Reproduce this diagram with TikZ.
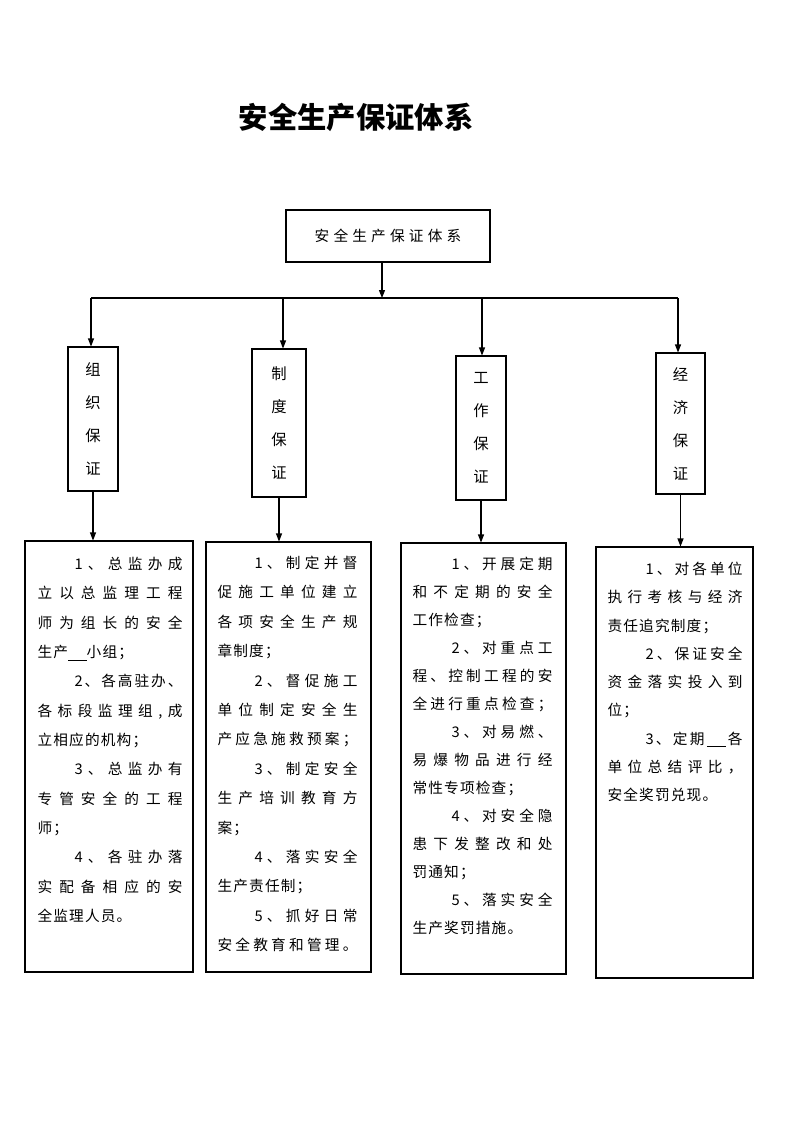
\documentclass[tikz,border=0pt]{standalone}
\usepackage{fontspec}
\newfontfamily\cjk[LetterSpace=8]{Noto Sans CJK SC}
\newfontfamily\cjkplain{Noto Sans CJK SC}
\usetikzlibrary{arrows.meta}
\ExplSyntaxOn
\NewDocumentCommand\spread{mm}{\hbox~to~#1{\tl_map_inline:nn{#2}{##1\hfill}\unskip}}
\ExplSyntaxOff
\newcommand\ul{\rule[-2pt]{14pt}{0.5pt}}
\newcommand\JL[4]{\node[txt] (#1) at (#2) {\spread{#3}{#4}};}
\newcommand\NL[3]{\node[txt] (#1) at (#2) {#3};}
\begin{document}
\begin{tikzpicture}[x=0.75pt,y=-0.75pt,line width=0.8pt,
  arr/.style={-{Triangle[length=6pt,width=4.5pt]}},
  sbox/.style={draw,inner sep=0pt,align=center,font=\cjkplain\fontsize{11.5pt}{24.75pt}\selectfont},
  bbox/.style={draw,inner sep=0pt},
  txt/.style={anchor=west,inner sep=0pt,text height=9.68pt,text depth=1.32pt,font=\cjk\fontsize{11pt}{12pt}\selectfont}]
\path[use as bounding box] (0,0) rectangle (793,1122);
% title
\node[font=\cjkplain\bfseries\fontsize{22pt}{26pt}\selectfont] (title) at (356,117) {安全生产保证体系};
% top box
\node[draw,minimum width=153pt,minimum height=39pt,inner sep=0pt,font=\cjkplain\fontsize{11pt}{12pt}\selectfont] (top) at (388,236) {\spread{110pt}{安全生产保证体系}};
% hub line
\coordinate (hub) at (382,298);
\coordinate (h1) at (91,298);
\coordinate (h2) at (283,298);
\coordinate (h3) at (482,298);
\coordinate (h4) at (678,298);
\draw[arr] (top.south -| hub) -- (hub);
\draw (h1) -- (h4);
% small boxes
\node[sbox,minimum width=37.5pt,minimum height=108pt] (b1) at (93,419) {组\\织\\保\\证};
\node[sbox,minimum width=40.5pt,minimum height=111pt] (b2) at (279,423) {制\\度\\保\\证};
\node[sbox,minimum width=37.5pt,minimum height=108pt] (b3) at (481,428) {工\\作\\保\\证};
\node[sbox,minimum width=36.75pt,minimum height=105.75pt] (b4) at (680.5,423.5) {经\\济\\保\\证};
\draw[arr] (h1) -- (h1 |- b1.north);
\draw[arr] (h2) -- (h2 |- b2.north);
\draw[arr] (h3) -- (h3 |- b3.north);
\draw[arr] (h4) -- (h4 |- b4.north);
% big boxes
\node[bbox,minimum width=126pt,minimum height=323.25pt] (B1) at (109,756.5) {};
\node[bbox,minimum width=123.75pt,minimum height=322.5pt] (B2) at (288.5,757) {};
\node[bbox,minimum width=123.75pt,minimum height=323.25pt] (B3) at (483.5,758.5) {};
\node[bbox,minimum width=117.75pt,minimum height=323.25pt] (B4) at (674.5,762.5) {};
\draw[arr] (b1.south) -- (b1.south |- B1.north);
\draw[arr] (b2.south) -- (b2.south |- B2.north);
\draw[arr] (b3.south) -- (b3.south |- B3.north);
\draw[arr] (b4.south) -- (b4.south |- B4.north);
% box 1 text
\JL{a1}{74,564}{81pt}{1、总监办成}
\JL{a2}{37,593.33}{108.75pt}{立以总监理工程}
\JL{a3}{37,622.67}{108.75pt}{师为组长的安全}
\NL{a4}{37,652}{生产\ul 小组；}
\JL{a5}{74,681.33}{81pt}{2、各高驻办、}
\JL{a6}{37,710.67}{108.75pt}{各标段监理组,成}
\NL{a7}{37,740}{立相应的机构；}
\JL{a8}{74,769.33}{81pt}{3、总监办有}
\JL{a9}{37,798.67}{108.75pt}{专管安全的工程}
\NL{a10}{37,828}{师；}
\JL{a11}{74,857.33}{81pt}{4、各驻办落}
\JL{a12}{37,886.67}{108.75pt}{实配备相应的安}
\NL{a13}{37,916}{全监理人员。}
% box 2 text
\JL{c1}{254,563}{77.25pt}{1、制定并督}
\JL{c2}{217,592.4}{105pt}{促施工单位建立}
\JL{c3}{217,621.8}{105pt}{各项安全生产规}
\NL{c4}{217,651.2}{章制度；}
\JL{c5}{254,680.6}{77.25pt}{2、督促施工}
\JL{c6}{217,710}{105pt}{单位制定安全生}
\JL{c7}{217,739.4}{105pt}{产应急施救预案；}
\JL{c8}{254,768.8}{77.25pt}{3、制定安全}
\JL{c9}{217,798.2}{105pt}{生产培训教育方}
\NL{c10}{217,827.6}{案；}
\JL{c11}{254,857}{77.25pt}{4、落实安全}
\NL{c12}{217,886.4}{生产责任制；}
\JL{c13}{254,915.8}{77.25pt}{5、抓好日常}
\JL{c14}{217,945.2}{105pt}{安全教育和管理。}
% box 3 text
\JL{d1}{451,564}{75.75pt}{1、开展定期}
\JL{d2}{412,592}{105pt}{和不定期的安全}
\NL{d3}{412,620}{工作检查；}
\JL{d4}{451,648}{75.75pt}{2、对重点工}
\JL{d5}{412,676}{105pt}{程、控制工程的安}
\JL{d6}{412,704}{105pt}{全进行重点检查；}
\JL{d7}{451,732}{75.75pt}{3、对易燃、}
\JL{d8}{412,760}{105pt}{易爆物品进行经}
\NL{d9}{412,788}{常性专项检查；}
\JL{d10}{451,816}{75.75pt}{4、对安全隐}
\JL{d11}{412,844}{105pt}{患下发整改和处}
\NL{d12}{412,872}{罚通知；}
\JL{d13}{451,900}{75.75pt}{5、落实安全}
\NL{d14}{412,928}{生产奖罚措施。}
% box 4 text
\JL{e1}{645,569}{72.75pt}{1、对各单位}
\JL{e2}{607,597.25}{101.25pt}{执行考核与经济}
\NL{e3}{607,625.5}{责任追究制度；}
\JL{e4}{645,653.75}{72.75pt}{2、保证安全}
\JL{e5}{607,682}{101.25pt}{资金落实投入到}
\NL{e6}{607,710.25}{位；}
\JL{e7}{645,738.5}{72.75pt}{3、定期{\ul}各}
\JL{e8}{607,766.75}{101.25pt}{单位总结评比，}
\NL{e9}{607,795}{安全奖罚兑现。}
\end{tikzpicture}
\end{document}
